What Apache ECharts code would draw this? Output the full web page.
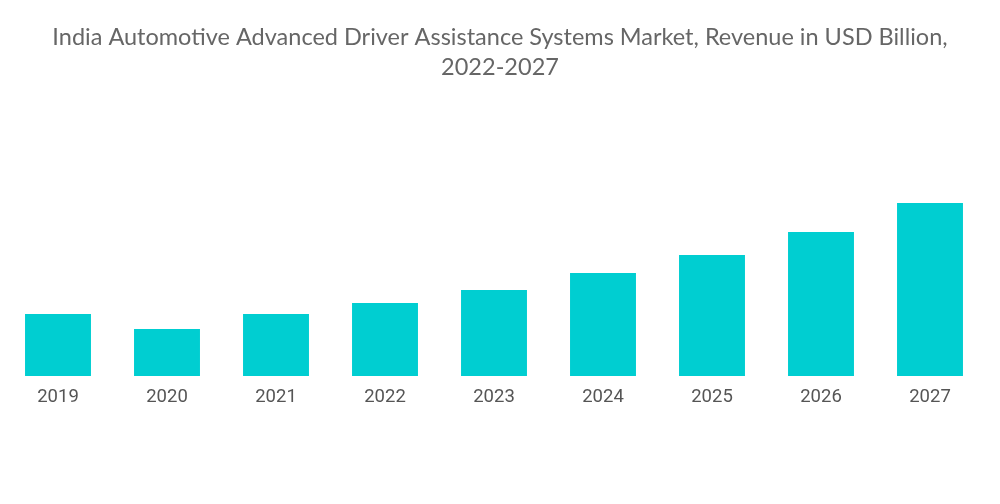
<!DOCTYPE html>
<html>
<head>
<meta charset="utf-8">
<script src="https://cdn.jsdelivr.net/npm/echarts@6/dist/echarts.min.js"></script>
<style>html,body{margin:0;padding:0;background:#fff}#c{width:1000px;height:504px}</style>
</head>
<body>
<div id="c"></div>
<script>
const categories = ['2019','2020','2021','2022','2023','2024','2025','2026','2027'];
const revenue = [0.62, 0.47, 0.62, 0.73, 0.86, 1.03, 1.21, 1.44, 1.73];
const titleText = 'India Automotive Advanced Driver Assistance Systems Market, Revenue in USD Billion,\n2022-2027';

const chart = echarts.init(document.getElementById('c'));
chart.setOption({
  animation: false,
  title: {
    text: titleText,
    left: 'center',
    top: 17,
    textStyle: {fontFamily: 'Lato', fontWeight: 'normal', fontSize: 23.5, color: '#666', lineHeight: 30}
  },
  grid: {left: 3.5, right: 15.5, top: 176, bottom: 128, containLabel: false},
  xAxis: {
    type: 'category',
    data: categories,
    axisLine: {show: false},
    axisTick: {show: false},
    axisLabel: {fontFamily: 'Roboto', fontSize: 18.5, color: '#555', margin: 12}
  },
  yAxis: {
    type: 'value',
    min: 0, max: 2,
    show: false,
    splitLine: {show: false}
  },
  series: [{
    type: 'bar',
    data: revenue,
    barWidth: '60.5%',
    itemStyle: {color: '#00CED1'}
  }]
});
</script>
</body>
</html>
